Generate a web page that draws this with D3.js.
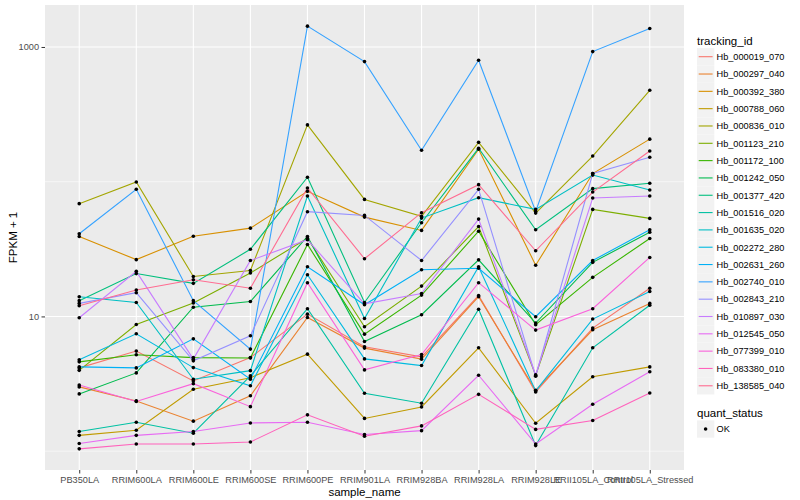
<!DOCTYPE html>
<html>
<head>
<meta charset="utf-8">
<script src="https://cdn.jsdelivr.net/npm/d3@7/dist/d3.min.js"></script>
<style>
body { margin: 0; background: #fff; }
text { font-family: "Liberation Sans", Arial, sans-serif; }
</style>
</head>
<body>
<script>
// samples on the x axis
var samples = ["PB350LA", "RRIM600LA", "RRIM600LE", "RRIM600SE", "RRIM600PE", "RRIM901LA",
    "RRIM928BA", "RRIM928LA", "RRIM928LE", "RRII105LA_Control", "RRII105LA_Stressed"];

var trackingIds = ["Hb_000019_070", "Hb_000297_040", "Hb_000392_380", "Hb_000788_060", "Hb_000836_010",
    "Hb_001123_210", "Hb_001172_100", "Hb_001242_050", "Hb_001377_420", "Hb_001516_020",
    "Hb_001635_020", "Hb_002272_280", "Hb_002631_260", "Hb_002740_010", "Hb_002843_210",
    "Hb_010897_030", "Hb_012545_050", "Hb_077399_010", "Hb_083380_010", "Hb_138585_040"];

// ggplot hue palette for 20 levels
var colors = ["#F8766D", "#EA8331", "#D89000", "#C09B00", "#A3A500", "#7CAE00", "#39B600", "#00BB4E",
    "#00BF7D", "#00C1A3", "#00BFC4", "#00BAE0", "#00B0F6", "#35A2FF", "#9590FF", "#C77CFF",
    "#E76BF3", "#FA62DB", "#FF62BC", "#FF6C91"];

var yTicks = [10, 1000];
var yMinor = [1, 100];

// FPKM + 1, one array per gene, in sample order
var hb_000019_070 = [4.15, 5.53, 3.32, 4.95, 10.4, 5.95, 5.01, 14.3, 2.75, 8.20, 16.2];
var hb_000297_040 = [3.00, 2.36, 1.67, 2.58, 9.83, 5.82, 4.82, 14.0, 2.83, 7.96, 12.5];
var hb_000392_380 = [39.2, 26.4, 39.4, 45.2, 84.8, 54.6, 43.5, 174, 24.0, 115, 207];
var hb_000788_060 = [1.31, 1.43, 2.88, 3.51, 5.25, 1.75, 2.13, 5.85, 1.61, 3.57, 4.22];
var hb_000836_010 = [68.7, 99.5, 19.8, 21.9, 264, 73.9, 55.3, 196, 58.5, 155, 477];
var hb_001123_210 = [3.98, 8.72, 12.6, 21.0, 38.1, 8.38, 16.8, 46.5, 3.65, 62.3, 53.4];
var hb_001172_100 = [4.60, 5.19, 4.95, 4.92, 34.2, 7.39, 14.4, 42.9, 8.67, 19.5, 37.9];
var hb_001242_050 = [2.66, 3.81, 11.7, 12.9, 39.2, 6.51, 10.3, 26.3, 8.93, 25.2, 42.2];
var hb_001377_420 = [13.1, 20.8, 17.6, 31.5, 108, 12.7, 49.6, 177, 44.0, 88.8, 97.3];
var hb_001516_020 = [1.40, 1.64, 1.36, 3.62, 11.4, 2.69, 2.27, 11.3, 1.10, 5.85, 12.1];
var hb_001635_020 = [14.0, 12.7, 3.42, 3.96, 78.3, 9.66, 53.7, 76.1, 62.3, 112, 86.8];
var hb_002272_280 = [4.76, 7.43, 4.17, 3.06, 20.4, 4.84, 4.32, 23.4, 2.80, 9.56, 15.3];
var hb_002631_260 = [4.22, 4.15, 6.82, 3.42, 23.4, 12.2, 22.2, 22.8, 9.95, 26.0, 44.0];
var hb_002740_010 = [41.1, 87.8, 13.1, 5.72, 1428, 779, 171, 797, 60.2, 924, 1371];
var hb_002843_210 = [12.5, 15.0, 4.68, 7.18, 59.9, 56.2, 26.0, 87.8, 3.60, 115, 152];
var hb_010897_030 = [9.78, 21.6, 4.82, 26.0, 37.1, 12.4, 14.8, 52.8, 3.68, 75.6, 78.3];
var hb_012545_050 = [1.14, 1.31, 1.40, 1.62, 1.64, 1.33, 1.42, 3.66, 1.13, 2.23, 3.89];
var hb_077399_010 = [3.10, 2.34, 3.17, 2.14, 17.8, 4.01, 5.21, 17.8, 7.92, 11.4, 27.4];
var hb_083380_010 = [1.04, 1.13, 1.13, 1.17, 1.86, 1.29, 1.54, 2.64, 1.45, 1.69, 2.70];
var hb_138585_040 = [12.0, 15.7, 18.7, 16.2, 89.8, 26.8, 58.9, 95.1, 30.7, 83.8, 169];

var fpkm = [hb_000019_070, hb_000297_040, hb_000392_380, hb_000788_060, hb_000836_010,
    hb_001123_210, hb_001172_100, hb_001242_050, hb_001377_420, hb_001516_020,
    hb_001635_020, hb_002272_280, hb_002631_260, hb_002740_010, hb_002843_210,
    hb_010897_030, hb_012545_050, hb_077399_010, hb_083380_010, hb_138585_040];

var panel = {left: 45, right: 684, top: 5, bottom: 470};

var svg = d3.select("body").append("svg").attr("width", 800).attr("height", 500);

var color = d3.scaleOrdinal().domain(trackingIds).range(colors);

var x = d3.scalePoint().domain(samples).range([panel.left, panel.right]).padding(0.6);

var all = [].concat.apply([], fpkm);
var lo = Math.log10(d3.min(all)), hi = Math.log10(d3.max(all)), pad = (hi - lo) * 0.05;
var y = d3.scaleLog().domain([Math.pow(10, lo - pad), Math.pow(10, hi + pad)]).range([panel.bottom, panel.top]);

svg.append("rect").attr("x", panel.left).attr("y", panel.top)
    .attr("width", panel.right - panel.left).attr("height", panel.bottom - panel.top)
    .attr("fill", "#ebebeb");

var grid = svg.append("g").attr("stroke", "#fff").attr("fill", "none");
grid.selectAll(".minor").data(yMinor).enter().append("line")
    .attr("x1", panel.left).attr("x2", panel.right)
    .attr("y1", function (d) { return y(d); }).attr("y2", function (d) { return y(d); })
    .attr("stroke-width", 0.55);
grid.selectAll(".major").data(yTicks).enter().append("line")
    .attr("x1", panel.left).attr("x2", panel.right)
    .attr("y1", function (d) { return y(d); }).attr("y2", function (d) { return y(d); })
    .attr("stroke-width", 1.1);
grid.selectAll(".vert").data(samples).enter().append("line")
    .attr("y1", panel.top).attr("y2", panel.bottom)
    .attr("x1", function (d) { return x(d); }).attr("x2", function (d) { return x(d); })
    .attr("stroke-width", 1.1);

var line = d3.line()
    .x(function (d, i) { return x(samples[i]); })
    .y(function (d) { return y(d); });

svg.append("g").selectAll("path").data(fpkm).enter().append("path")
    .attr("d", line)
    .attr("fill", "none")
    .attr("stroke-width", 1.1)
    .attr("stroke", function (d, i) { return color(trackingIds[i]); });

var pts = svg.append("g");
fpkm.forEach(function (series) {
    pts.selectAll(null).data(series).enter().append("circle")
        .attr("cx", function (d, i) { return x(samples[i]); })
        .attr("cy", function (d) { return y(d); })
        .attr("r", 1.8)
        .attr("fill", "#000");
});

// axes
var xAxis = d3.axisBottom(x).tickSize(3.5).tickPadding(2.5);
var gx = svg.append("g").attr("transform", "translate(0," + panel.bottom + ")").call(xAxis);
var yAxis = d3.axisLeft(y).tickValues(yTicks).tickFormat(d3.format("d")).tickSize(3.5).tickPadding(2.5);
var gy = svg.append("g").attr("transform", "translate(" + panel.left + ",0)").call(yAxis);
[gx, gy].forEach(function (g) {
    g.select(".domain").remove();
    g.selectAll(".tick line").attr("stroke", "#333");
    g.selectAll(".tick text").attr("fill", "#4d4d4d").style("font-size", "9.2px")
        .style("font-family", "'Liberation Sans', Arial, sans-serif");
});

svg.append("text").attr("x", (panel.left + panel.right) / 2).attr("y", 496)
    .attr("text-anchor", "middle").style("font-size", "11.5px").text("sample_name");
svg.append("text").attr("transform", "translate(17," + ((panel.top + panel.bottom) / 2) + ") rotate(-90)")
    .attr("text-anchor", "middle").style("font-size", "11.5px").text("FPKM + 1");

// legend
var lg = svg.append("g").attr("transform", "translate(697,0)");
lg.append("text").attr("x", 0).attr("y", 44.5).style("font-size", "11.5px").text("tracking_id");
var rows = lg.selectAll(".row").data(trackingIds).enter().append("g")
    .attr("transform", function (d, i) { return "translate(0," + (56.7 + i * 17.32) + ")"; });
rows.append("rect").attr("x", 0).attr("y", -8.6).attr("width", 17.3).attr("height", 17.3).attr("fill", "#f2f2f2");
rows.append("line").attr("x1", 1.7).attr("x2", 15.6).attr("y1", 0).attr("y2", 0)
    .attr("stroke-width", 1.1).attr("stroke", function (d) { return color(d); });
rows.append("text").attr("x", 19.5).attr("y", 3.3).style("font-size", "9.2px").text(function (d) { return d; });

lg.append("text").attr("x", 0).attr("y", 416.5).style("font-size", "11.5px").text("quant_status");
lg.append("rect").attr("x", 0).attr("y", 420.4).attr("width", 17.3).attr("height", 17.3).attr("fill", "#f2f2f2");
lg.append("circle").attr("cx", 8.6).attr("cy", 429).attr("r", 1.8).attr("fill", "#000");
lg.append("text").attr("x", 19.5).attr("y", 432.3).style("font-size", "9.2px").text("OK");
</script>
</body>
</html>
